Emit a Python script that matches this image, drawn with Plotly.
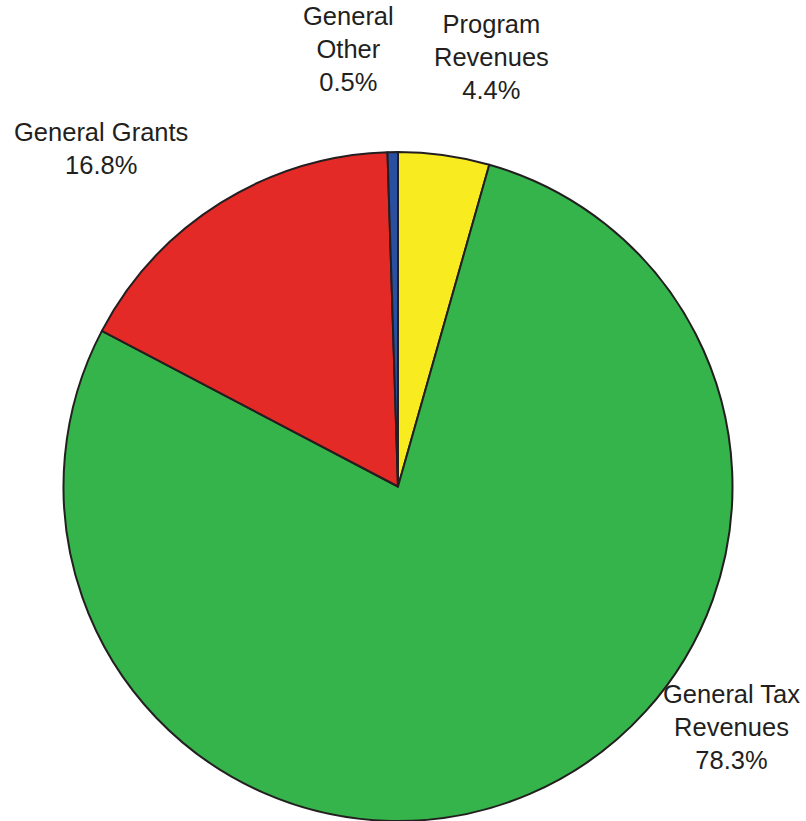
import plotly.graph_objects as go

categories = ["Program Revenues", "General Tax Revenues", "General Grants", "General Other"]
label_lines = ["Program<br>Revenues", "General Tax<br>Revenues", "General Grants", "General<br>Other"]
values = [4.4, 78.3, 16.8, 0.5]
colors = ["#F8EC21", "#34B44A", "#E32A27", "#2B4FA0"]

W, H = 806, 821
fig = go.Figure(go.Pie(
    labels=categories,
    values=values,
    sort=False,
    direction="clockwise",
    rotation=0,
    marker=dict(colors=colors, line=dict(color="#231F20", width=2)),
    textinfo="none",
    hoverinfo="label+percent",
    showlegend=False,
    domain=dict(x=[63 / W, 733 / W], y=[0, 1 - 152 / H]),
))

# label anchor positions (pixels, centre of text block)
label_pos = [(491, 57), (731, 727), (101, 149), (348, 49)]
for txt, v, (px, py) in zip(label_lines, values, label_pos):
    fig.add_annotation(
        x=px / W, y=1 - py / H, xref="paper", yref="paper",
        text=f"{txt}<br>{v:.1f}%", showarrow=False,
        xanchor="center", yanchor="middle", align="center",
        font=dict(family="Liberation Sans, Arial, sans-serif", size=25.5, color="#231F20"),
    )

fig.update_layout(
    width=W, height=H,
    margin=dict(l=0, r=0, t=0, b=0),
    paper_bgcolor="white", plot_bgcolor="white",
)
fig.write_html("out.html")
